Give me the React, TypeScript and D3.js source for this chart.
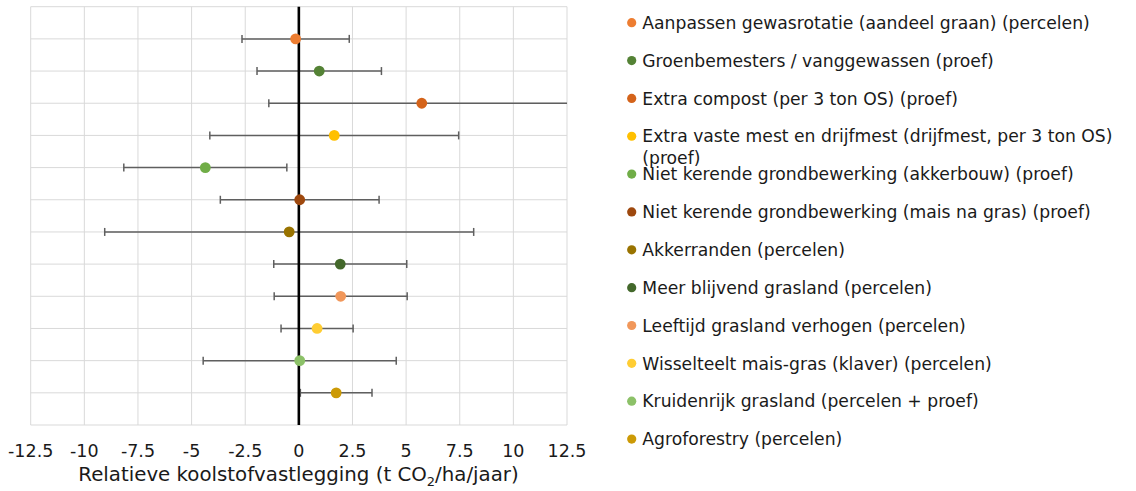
import React from "react";
import * as d3 from "d3";

// Measures (top to bottom), with their mean effect and ± half-width of the error bar
const labels: string[][] = [
  ["Aanpassen gewasrotatie (aandeel graan) (percelen)"],
  ["Groenbemesters / vanggewassen (proef)"],
  ["Extra compost (per 3 ton OS) (proef)"],
  ["Extra vaste mest en drijfmest (drijfmest, per 3 ton OS)", "(proef)"],
  ["Niet kerende grondbewerking (akkerbouw) (proef)"],
  ["Niet kerende grondbewerking (mais na gras) (proef)"],
  ["Akkerranden (percelen)"],
  ["Meer blijvend grasland (percelen)"],
  ["Leeftijd grasland verhogen (percelen)"],
  ["Wisselteelt mais-gras (klaver) (percelen)"],
  ["Kruidenrijk grasland (percelen + proef)"],
  ["Agroforestry (percelen)"],
];
const means: number[] = [-0.15, 0.95, 5.73, 1.65, -4.36, 0.04, -0.45, 1.93, 1.95, 0.85, 0.04, 1.74];
const errors: number[] = [2.5, 2.9, 7.13, 5.8, 3.8, 3.7, 8.6, 3.1, 3.1, 1.68, 4.5, 1.67];
const colors: string[] = [
  "#ED7D31", "#548235", "#D4631A", "#FFC000", "#70AD47", "#9E480E",
  "#997300", "#43682B", "#F1975A", "#FFCD33", "#8CC168", "#CC9A06",
];
const xTicks: number[] = [-12.5, -10, -7.5, -5, -2.5, 0, 2.5, 5, 7.5, 10, 12.5];

const W = 1136;
const H = 491;
const left = 30.7;
const right = 567;
const top = 6.7;
const bottom = 425;
const fontStyle = { fontFamily: "DejaVu Sans" };

export default function App() {
  const x = d3.scaleLinear().domain([-12.5, 12.5]).range([left, right]);
  const y = d3.scaleLinear().domain([0, 13]).range([bottom, top]);
  const rowY = (i: number) => y(12 - i);
  const yGrid = d3.range(0, 14);
  const fmt = (v: number) => (Number.isInteger(v) ? String(v) : v.toFixed(1));
  const clampX = (v: number) => Math.max(-12.5, Math.min(12.5, v));
  const legendY = (i: number) => 22.7 + i * 37.85;

  return (
    <svg
      width={W}
      height={H}
      style={{ position: "absolute", left: 0, top: 0, background: "#fff", ...fontStyle }}
    >
      {/* grid */}
      <g stroke="#D9D9D9" strokeWidth={1}>
        {xTicks.map((t) => (
          <line key={"vx" + t} x1={x(t)} x2={x(t)} y1={top} y2={bottom} />
        ))}
        {yGrid.map((g) => (
          <line key={"hy" + g} x1={left} x2={right} y1={y(g)} y2={y(g)} />
        ))}
      </g>

      {/* error bars */}
      <g stroke="#5F5F5F" strokeWidth={1.5}>
        {means.map((m, i) => {
          const lo = m - errors[i];
          const hi = m + errors[i];
          const cy = rowY(i);
          return (
            <g key={"e" + i}>
              <line x1={x(clampX(lo))} x2={x(clampX(hi))} y1={cy} y2={cy} />
              {lo >= -12.5 && <line x1={x(lo)} x2={x(lo)} y1={cy - 4} y2={cy + 4} />}
              {hi <= 12.5 && <line x1={x(hi)} x2={x(hi)} y1={cy - 4} y2={cy + 4} />}
            </g>
          );
        })}
      </g>

      {/* zero line */}
      <line x1={x(0)} x2={x(0)} y1={top} y2={bottom} stroke="#000" strokeWidth={2.6} />

      {/* markers */}
      {means.map((m, i) => (
        <circle key={"p" + i} cx={x(m)} cy={rowY(i)} r={5.4} fill={colors[i]} />
      ))}

      {/* x tick labels */}
      <g fontSize={17.5} fill="#1a1a1a" textAnchor="middle">
        {xTicks.map((t) => (
          <text key={"t" + t} x={x(t)} y={456.5}>
            {fmt(t)}
          </text>
        ))}
      </g>

      {/* axis title */}
      <text x={298.5} y={481} fontSize={19.8} fill="#1a1a1a" textAnchor="middle">
        Relatieve koolstofvastlegging (t CO
        <tspan fontSize={13} dy={4.5}>2</tspan>
        <tspan dy={-4.5}>/ha/jaar)</tspan>
      </text>

      {/* legend */}
      <g fontSize={17.2} fill="#1a1a1a">
        {labels.map((lines, i) => (
          <g key={"l" + i}>
            <circle cx={631.7} cy={legendY(i)} r={4.6} fill={colors[i]} />
            <text x={642.3} y={legendY(i)}>
              {lines.map((ln, j) => (
                <tspan key={j} x={642.3} dy={j === 0 ? "0.36em" : 21.5}>
                  {ln}
                </tspan>
              ))}
            </text>
          </g>
        ))}
      </g>
    </svg>
  );
}
